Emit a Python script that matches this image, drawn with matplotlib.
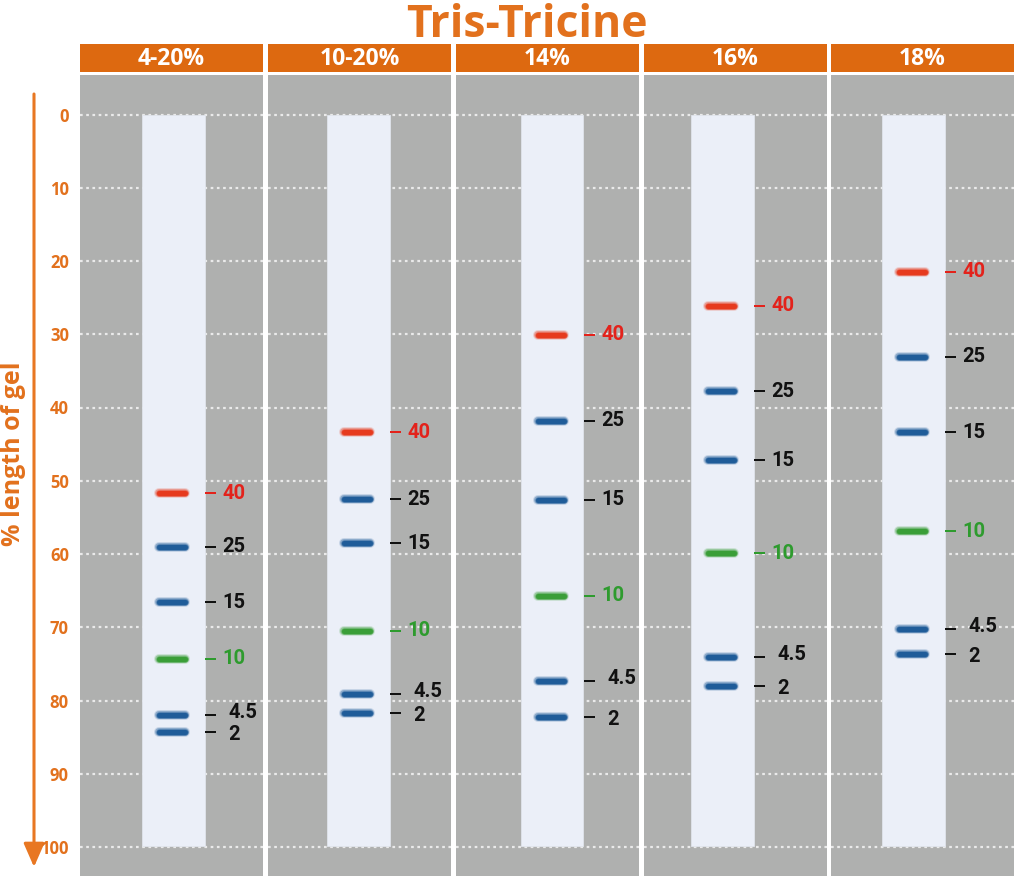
import matplotlib
matplotlib.use("Agg")
import matplotlib.pyplot as plt
from matplotlib.patches import Rectangle

# ---------------- data ----------------
gels = ['4-20%', '10-20%', '14%', '16%', '18%']
markers = ['40', '25', '15', '10', '4.5', '2']
pos_4_20 = [51.7, 59.0, 66.6, 74.3, 82.0, 84.3]
pos_10_20 = [43.4, 52.5, 58.5, 70.5, 79.1, 81.7]
pos_14 = [30.1, 41.8, 52.6, 65.7, 77.3, 82.2]
pos_16 = [26.1, 37.8, 47.2, 59.9, 74.1, 78.0]
pos_18 = [21.5, 33.1, 43.4, 56.9, 70.2, 73.6]
positions = [pos_4_20, pos_10_20, pos_14, pos_16, pos_18]
yticks = list(range(0, 101, 10))
title = 'Tris-Tricine'
ylabel = '% length of gel'

# ---------------- styles ----------------
W, H = 1024, 876
ORANGE_HDR = '#DD6910'
ORANGE_TXT = '#E2711D'
ORANGE_AX = '#E87722'
GRAY = '#AFB0AF'
LANE = '#EBEFF8'
band_colors = ['#E63A1E', '#1F5C99', '#1F5C99', '#3A9E38', '#1F5C99', '#1F5C99']
label_colors = ['#E3221B', '#111111', '#111111', '#2E9B2E', '#111111', '#111111']
label_nudge = [0, 0, 0, 0, -0.35, 0.35]

panel_left = [80, 268, 456, 643.5, 831]
panel_w = 183
lane_off = [62, 59, 64.5, 47.5, 51]
lane_w = 62.5

y0_px, px_per = 114.5, 7.325
top_px, bot_px = 75, 876
ymin = (top_px - y0_px) / px_per
ymax = (bot_px - y0_px) / px_per

PX = 0.72  # points per pixel at dpi 100


def frac(x0, y0, x1, y1):
    return [x0 / W, 1 - y1 / H, (x1 - x0) / W, (y1 - y0) / H]


fig = plt.figure(figsize=(W / 100, H / 100), dpi=100)
fig.patch.set_facecolor('white')

# overlay for arrow
ov = fig.add_axes([0, 0, 1, 1], zorder=0)
ov.set_xlim(0, W)
ov.set_ylim(H, 0)
ov.axis('off')
ov.annotate('', xy=(34, 867), xytext=(34, 94),
            arrowprops=dict(arrowstyle='-|>,head_length=0.8,head_width=0.35',
                            lw=2.2, color=ORANGE_AX, shrinkA=0, shrinkB=0,
                            mutation_scale=18))

fig.text(527 / W, 1 - 37 / H, title, ha='center', va='baseline',
         fontsize=32, fontweight='bold', color=ORANGE_TXT, family=['Open Sans', 'DejaVu Sans'])
fig.text(14 / W, 1 - 454 / H, ylabel, rotation=90, ha='center', va='center',
         fontsize=18, fontweight='bold', color=ORANGE_TXT, family=['Open Sans', 'DejaVu Sans'])

for i, gel in enumerate(gels):
    L = panel_left[i]
    # header
    hx = fig.add_axes(frac(L, 44, L + panel_w, 72), zorder=1)
    hx.set_facecolor(ORANGE_HDR)
    hx.set_xticks([]); hx.set_yticks([])
    for s in hx.spines.values():
        s.set_visible(False)
    hx.text(0.5, 0.46, gel, transform=hx.transAxes, ha='center', va='center',
            fontsize=16.5, fontweight='bold', color='white', family=['Open Sans', 'DejaVu Sans'])

    ax = fig.add_axes(frac(L, top_px, L + panel_w, bot_px), zorder=1)
    ax.set_facecolor(GRAY)
    ax.set_xlim(0, panel_w)
    ax.set_ylim(ymax, ymin)
    for s in ax.spines.values():
        s.set_visible(False)
    ax.set_xticks([])
    ax.set_yticks(yticks)
    ax.set_axisbelow(True)
    ax.grid(axis='y', color='white', alpha=0.75, linestyle=(0, (1.2, 1.6)), lw=1.6)
    ax.tick_params(axis='y', length=0, pad=8)
    if i == 0:
        ax.set_yticklabels([str(t) for t in yticks], fontsize=12, fontweight='bold',
                           color=ORANGE_TXT, family=['Open Sans', 'DejaVu Sans'])
    else:
        ax.set_yticklabels([])

    lx = lane_off[i]
    ax.add_patch(Rectangle((lx, 0.1), lane_w, 99.8, facecolor=LANE,
                           edgecolor='#E0E4EC', lw=0.6, zorder=2))
    cx = lx + lane_w / 2 - 1
    rx = lx + lane_w
    for j, (m, y) in enumerate(zip(markers, positions[i])):
        c = band_colors[j]
        for lw_px, a in [(10, 0.18), (8, 0.35), (6.5, 0.6), (5, 1.0)]:
            ax.plot([cx - 13, cx + 13], [y, y], color=c, lw=lw_px * PX, alpha=a,
                    solid_capstyle='round', zorder=3)
        ax.plot([rx + 0.5, rx + 11.5], [y, y], color=label_colors[j], lw=2 * PX,
                solid_capstyle='butt', zorder=3)
        off = 24 if j >= 4 else 18
        ax.text(rx + off, y + label_nudge[j], m, ha='left', va='center', fontsize=14.5,
                fontweight='bold', color=label_colors[j], family=['Roboto', 'DejaVu Sans'],
                zorder=4)

fig.savefig('out.png', dpi=100, facecolor='white')
